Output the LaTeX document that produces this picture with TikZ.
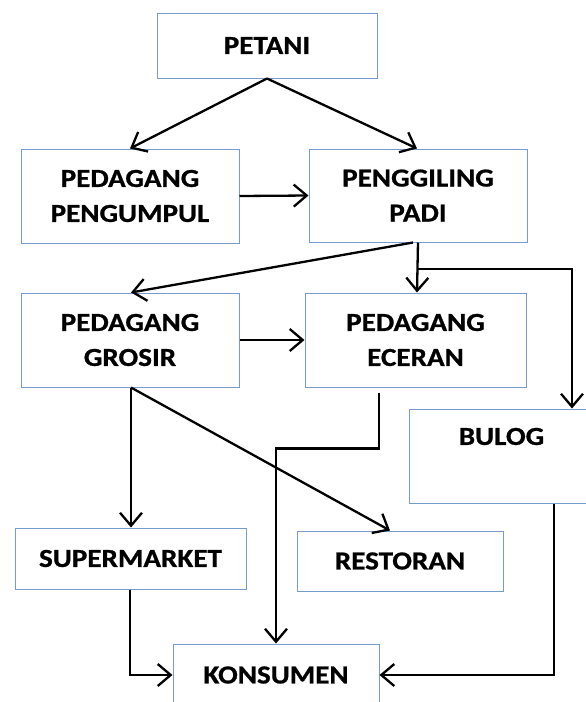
\documentclass[tikz,border=0pt]{standalone}
\usepackage{fontspec}
\setmainfont{Carlito}[FakeStretch=1.12, BoldFeatures={FakeBold=0.8}]
\usetikzlibrary{arrows.meta,calc}
\definecolor{boxblue}{RGB}{120,155,205}
\tikzset{
  box/.style={draw=boxblue, line width=1pt, fill=white, align=center, inner sep=0pt,
    font=\fontsize{26}{35}\selectfont\bfseries},
  conn/.style={line width=2.3pt, black},
  arr/.style={conn, -{Straight Barb[length=13pt,width=22pt,line width=2.3pt]}}
}
\begin{document}
\begin{tikzpicture}[x=1pt,y=-1pt]
\useasboundingbox (0,0) rectangle (586,702);
\clip (0,0) rectangle (586,702);
% nodes
\node[box, minimum width=220, minimum height=65] (petani) at (267,45.5) {PETANI};
\node[box, minimum width=218, minimum height=94] (pengumpul) at (130,196) {PEDAGANG\\PENGUMPUL};
\node[box, minimum width=218, minimum height=93] (penggiling) at (418,195.5) {PENGGILING\\PADI};
\node[box, minimum width=218, minimum height=94] (grosir) at (130,340) {PEDAGANG\\GROSIR};
\node[box, minimum width=221, minimum height=94] (eceran) at (415.5,340) {PEDAGANG\\ECERAN};
\node[box, minimum width=185, minimum height=94,
  label={[font=\fontsize{26}{35}\selectfont\bfseries, anchor=center, yshift=-28pt]north:BULOG}] (bulog) at (501.5,456) {};
\node[box, minimum width=231, minimum height=61] (supermarket) at (130.5,558.5) {SUPERMARKET};
\node[box, minimum width=206, minimum height=60] (restoran) at (400,561) {RESTORAN};
\node[box, minimum width=206, minimum height=62] (konsumen) at (276,675) {KONSUMEN};
% helper coordinates
\coordinate (split) at ($(penggiling.south)+(0,26.5)$);
% connectors
\draw[arr] (petani.south) -- (pengumpul.north);
\draw[arr] (petani.south) -- ([xshift=-1pt]penggiling.north);
\draw[arr] (pengumpul.east) -- (penggiling.west);
\draw[arr] ([xshift=-5pt]penggiling.south) -- ([xshift=1pt]grosir.north);
\draw[arr] (penggiling.south) -- ([xshift=1.5pt]eceran.north);
\draw[arr] (split) -| ([xshift=70.5pt]bulog.north);
\draw[arr] (grosir.east) -- (eceran.west);
\draw[arr] ([xshift=1pt]grosir.south) -- ([xshift=0.5pt]supermarket.north);
\draw[arr] ([xshift=1pt]grosir.south) -- ([xshift=-10pt]restoran.north);
\draw[arr] ([xshift=-36.5pt,yshift=-5pt]eceran.south) -- ++(0,56) -| (konsumen.north);
\draw[arr] ([xshift=-0.5pt]supermarket.south) |- (konsumen.west);
\draw[arr] ([xshift=52.5pt]bulog.south) |- (konsumen.east);
\end{tikzpicture}
\end{document}
